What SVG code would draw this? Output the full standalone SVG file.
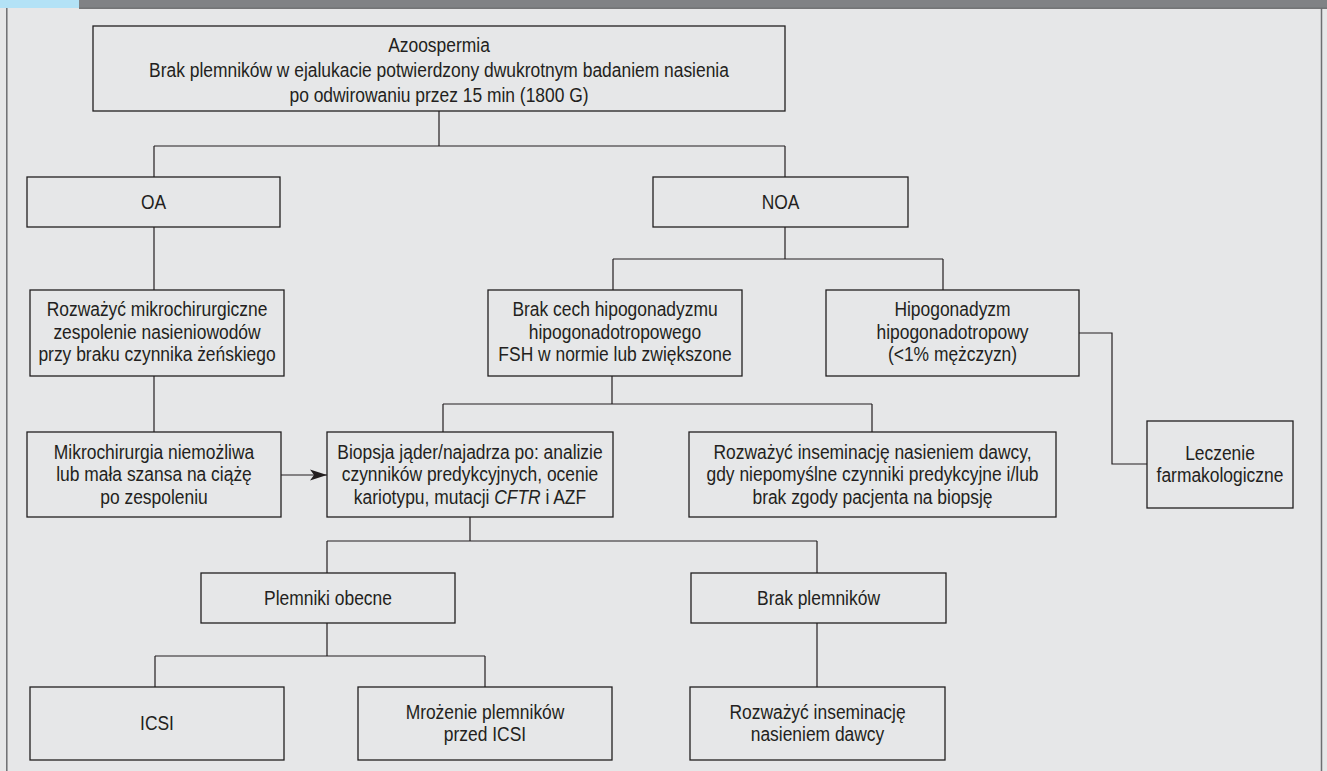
<svg xmlns="http://www.w3.org/2000/svg" width="1327" height="771" viewBox="0 0 1327 771">
<style>
.box{fill:#e6e7e8;stroke:#231f20;stroke-width:1.3}
.t{font-family:"Liberation Sans",Arial,sans-serif;font-size:21px;fill:#231f20;text-anchor:middle}
.c{fill:none;stroke:#231f20;stroke-width:1.2}
</style>
<defs>
<marker id="arr" markerWidth="18" markerHeight="12" refX="17" refY="6" orient="auto" markerUnits="userSpaceOnUse">
<path d="M0,0.5 L17,6 L0,11.5 L4,6 Z" fill="#231f20"/>
</marker>
</defs>
<rect x="0" y="0" width="1327" height="771" fill="#e6e7e8"/>
<rect x="0" y="0" width="79" height="8" fill="#b3e2f6"/>
<rect x="79" y="0" width="1248" height="8" fill="#808285"/>
<line x1="79" y1="8.3" x2="1327" y2="8.3" stroke="#58595b" stroke-width="1"/>
<line x1="6.8" y1="8" x2="6.8" y2="771" stroke="#6d6e71" stroke-width="1.5"/>
<line x1="1321.5" y1="8" x2="1321.5" y2="771" stroke="#6d6e71" stroke-width="1.5"/>

<g id="connectors">
<path class="c" d="M439,111 V146 M154,146 H785 M154,146 V177 M785,146 V177"/>
<path class="c" d="M154,227 V290"/>
<path class="c" d="M785,227 V259 M613,259 H943 M613,259 V290 M943,259 V290"/>
<path class="c" d="M1079,333 H1112 V464 H1147"/>
<path class="c" d="M154,376 V432"/>
<path class="c" d="M612,376 V404 M443,404 H872 M443,404 V432 M872,404 V432"/>
<path class="c" d="M281,475 H327" marker-end="url(#arr)"/>
<path class="c" d="M470,517 V541 M327,541 H817 M327,541 V573 M817,541 V573"/>
<path class="c" d="M327,623 V656 M155,656 H485 M155,656 V687 M485,656 V687"/>
<path class="c" d="M817,623 V687"/>
</g>

<g id="n-azoo">
<rect class="box" x="93" y="26" width="692" height="85"/>
<g transform="translate(439 0) scale(0.83 1)">
<text class="t" x="0" y="52.5">Azoospermia</text>
<text class="t" x="0" y="77.5">Brak plemników w ejalukacie potwierdzony dwukrotnym badaniem nasienia</text>
<text class="t" x="0" y="102">po odwirowaniu przez 15 min (1800 G)</text>
</g>
</g>
<g id="n-oa">
<rect class="box" x="27" y="177" width="253" height="50"/>
<g transform="translate(153.5 0) scale(0.83 1)"><text class="t" x="0" y="209">OA</text></g>
</g>
<g id="n-noa">
<rect class="box" x="653" y="177" width="255" height="50"/>
<g transform="translate(780.5 0) scale(0.83 1)"><text class="t" x="0" y="209">NOA</text></g>
</g>
<g id="n-mikro">
<rect class="box" x="30" y="290" width="254" height="86"/>
<g transform="translate(157 0) scale(0.83 1)">
<text class="t" x="0" y="316.5">Rozważyć mikrochirurgiczne</text>
<text class="t" x="0" y="339">zespolenie nasieniowodów</text>
<text class="t" x="0" y="361.5">przy braku czynnika żeńskiego</text>
</g>
</g>
<g id="n-brakcech">
<rect class="box" x="488" y="290" width="254" height="86"/>
<g transform="translate(615 0) scale(0.83 1)">
<text class="t" x="0" y="316.5">Brak cech hipogonadyzmu</text>
<text class="t" x="0" y="339">hipogonadotropowego</text>
<text class="t" x="0" y="361.5">FSH w normie lub zwiększone</text>
</g>
</g>
<g id="n-hipo">
<rect class="box" x="826" y="290" width="253" height="86"/>
<g transform="translate(952.5 0) scale(0.83 1)">
<text class="t" x="0" y="316.5">Hipogonadyzm</text>
<text class="t" x="0" y="339">hipogonadotropowy</text>
<text class="t" x="0" y="361.5">(&lt;1% mężczyzn)</text>
</g>
</g>
<g id="n-leczenie">
<rect class="box" x="1147" y="421" width="146" height="87"/>
<g transform="translate(1220 0) scale(0.83 1)">
<text class="t" x="0" y="460">Leczenie</text>
<text class="t" x="0" y="482.5">farmakologiczne</text>
</g>
</g>
<g id="n-niemozliwa">
<rect class="box" x="27" y="432" width="254" height="85"/>
<g transform="translate(154 0) scale(0.83 1)">
<text class="t" x="0" y="459">Mikrochirurgia niemożliwa</text>
<text class="t" x="0" y="481.5">lub mała szansa na ciążę</text>
<text class="t" x="0" y="504">po zespoleniu</text>
</g>
</g>
<g id="n-biopsja">
<rect class="box" x="327" y="432" width="286" height="85"/>
<g transform="translate(470 0) scale(0.83 1)">
<text class="t" x="0" y="459">Biopsja jąder/najadrza po: analizie</text>
<text class="t" x="0" y="481.5">czynników predykcyjnych, ocenie</text>
<text class="t" x="0" y="504">kariotypu, mutacji <tspan font-style="italic">CFTR</tspan> i AZF</text>
</g>
</g>
<g id="n-insem1">
<rect class="box" x="689" y="432" width="367" height="85"/>
<g transform="translate(872.5 0) scale(0.83 1)">
<text class="t" x="0" y="459">Rozważyć inseminację nasieniem dawcy,</text>
<text class="t" x="0" y="481.5">gdy niepomyślne czynniki predykcyjne i/lub</text>
<text class="t" x="0" y="504">brak zgody pacjenta na biopsję</text>
</g>
</g>
<g id="n-obecne">
<rect class="box" x="201" y="573" width="254" height="50"/>
<g transform="translate(328 0) scale(0.83 1)"><text class="t" x="0" y="605">Plemniki obecne</text></g>
</g>
<g id="n-brak">
<rect class="box" x="691" y="573" width="255" height="50"/>
<g transform="translate(818.5 0) scale(0.83 1)"><text class="t" x="0" y="605">Brak plemników</text></g>
</g>
<g id="n-icsi">
<rect class="box" x="30" y="687" width="254" height="73"/>
<g transform="translate(157 0) scale(0.83 1)"><text class="t" x="0" y="730.5">ICSI</text></g>
</g>
<g id="n-mrozenie">
<rect class="box" x="358" y="687" width="254" height="73"/>
<g transform="translate(485 0) scale(0.83 1)">
<text class="t" x="0" y="719">Mrożenie plemników</text>
<text class="t" x="0" y="741.5">przed ICSI</text>
</g>
</g>
<g id="n-insem2">
<rect class="box" x="690" y="687" width="255" height="73"/>
<g transform="translate(817.5 0) scale(0.83 1)">
<text class="t" x="0" y="719">Rozważyć inseminację</text>
<text class="t" x="0" y="741.5">nasieniem dawcy</text>
</g>
</g>
</svg>
